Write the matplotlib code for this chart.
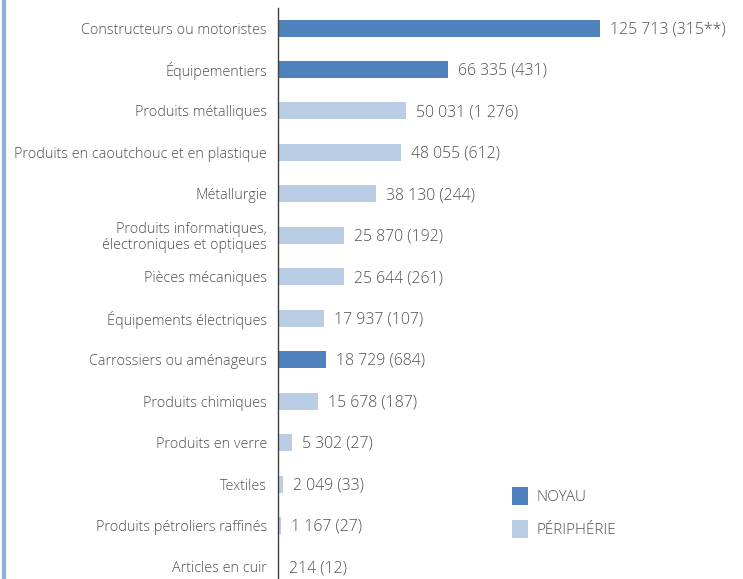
import matplotlib
matplotlib.use("Agg")
import matplotlib.pyplot as plt
from matplotlib.patches import Patch
from matplotlib.lines import Line2D

categories = [
    "Constructeurs ou motoristes",
    "Équipementiers",
    "Produits métalliques",
    "Produits en caoutchouc et en plastique",
    "Métallurgie",
    "Produits informatiques,\nélectroniques et optiques",
    "Pièces mécaniques",
    "Équipements électriques",
    "Carrossiers ou aménageurs",
    "Produits chimiques",
    "Produits en verre",
    "Textiles",
    "Produits pétroliers raffinés",
    "Articles en cuir",
]
values = [125713, 66335, 50031, 48055, 38130, 25870, 25644, 17937, 18729, 15678, 5302, 2049, 1167, 214]
counts = ["315**", "431", "1 276", "612", "244", "192", "261", "107", "684", "187", "27", "33", "27", "12"]
groups = ["NOYAU", "NOYAU", "PÉRIPHÉRIE", "PÉRIPHÉRIE", "PÉRIPHÉRIE", "PÉRIPHÉRIE", "PÉRIPHÉRIE",
          "PÉRIPHÉRIE", "NOYAU", "PÉRIPHÉRIE", "PÉRIPHÉRIE", "PÉRIPHÉRIE", "PÉRIPHÉRIE", "PÉRIPHÉRIE"]
legend_labels = ["NOYAU", "PÉRIPHÉRIE"]

colors = {"NOYAU": "#4F81BD", "PÉRIPHÉRIE": "#B9CDE5"}
text_color = "#505050"
plt.rcParams["font.family"] = ["Open Sans", "DejaVu Sans"]
plt.rcParams["font.weight"] = "light"

W, H = 743, 579
fig = plt.figure(figsize=(W / 100, H / 100), dpi=100)
ax_left = 278 / W
ax_top = 1 - 8 / H
ax = fig.add_axes([ax_left, 0, 1 - ax_left, ax_top])

n = len(categories)
ypos = list(range(n))
ax.barh(ypos, values, height=0.41, color=[colors[g] for g in groups])

px_per_unit = 322 / 125713
ax.set_xlim(0, (W - 278) / px_per_unit)
step = 41.46
ax.set_ylim(n - 1 + 12 / step, -20 / step)

def fmt(v):
    return f"{v:,}".replace(",", " ")

for y, v, c in zip(ypos, values, counts):
    ax.text(v + 10 / px_per_unit, y + 0.03, f"{fmt(v)} ({c})", va="center", ha="left",
            fontsize=11.4, color=text_color)

ax.set_yticks(ypos)
ax.set_yticklabels(categories, fontsize=10.4, color=text_color, linespacing=1.1)
ax.tick_params(axis="y", length=0, pad=8)
ax.set_xticks([])
for s in ["top", "right", "bottom"]:
    ax.spines[s].set_visible(False)
ax.spines["left"].set_color("#404040")
ax.spines["left"].set_linewidth(1.0)

handles = [Patch(facecolor=colors[g], edgecolor="none") for g in legend_labels]
leg = fig.legend(handles, legend_labels, loc="upper left", bbox_to_anchor=(498 / W, 1 - 473 / H),
                 frameon=False, fontsize=11, handlelength=1.05, handleheight=1.45,
                 labelspacing=1.0, handletextpad=0.55)
for t in leg.get_texts():
    t.set_color(text_color)

fig.add_artist(Line2D([4 / W, 4 / W], [0, 1], transform=fig.transFigure, color="#8FB0D6", lw=3))

fig.savefig("out.png", dpi=100)
